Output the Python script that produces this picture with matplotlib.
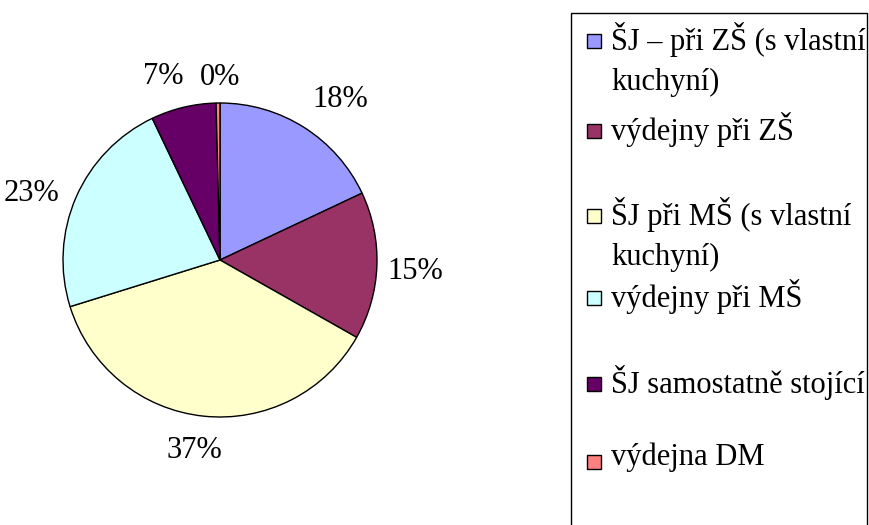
import matplotlib
matplotlib.use('Agg')
import matplotlib.pyplot as plt
from matplotlib.patches import Rectangle

# data (share of facilities, %)
categories = ['ŠJ – při ZŠ (s vlastní\nkuchyní)', 'výdejny při ZŠ',
              'ŠJ při MŠ (s vlastní\nkuchyní)', 'výdejny při MŠ',
              'ŠJ samostatně stojící', 'výdejna DM']
shares = [18.0, 15.2, 37.0, 22.7, 6.7, 0.4]
colors = ['#9999FF', '#993366', '#FFFFCC', '#CCFFFF', '#660066', '#FF8080']

# layout: legend rows (px) and nudges for the percentage labels (px)
legend_rows = [41, 131, 216, 298, 384, 462]
label_nudge = [(18, 1), (4, 4), (-5, 0), (-13, 10), (-12, 3), (2, 9)]

W, H = 870, 525
plt.rcParams['font.family'] = ['Liberation Serif', 'DejaVu Serif']
fsize = 22

fig = plt.figure(figsize=(W / 100, H / 100), dpi=100)

# pie axes: centre (220, 260), radius 157 px
cx, cy, r = 220, 260, 157
ax = fig.add_axes([(cx - r) / W, (H - cy - r) / H, 2 * r / W, 2 * r / H])
wedges, texts, autotexts = ax.pie(
    shares, colors=colors, startangle=90, counterclock=False,
    autopct='%.0f%%', pctdistance=1.22, radius=1.0,
    wedgeprops=dict(edgecolor='black', linewidth=1.0),
    textprops=dict(fontsize=fsize))
for t, (dx, dy) in zip(autotexts, label_nudge):
    x, y = t.get_position()
    t.set_position((x + dx / r, y - dy / r))
ax.set_xlim(-1, 1)
ax.set_ylim(-1, 1)
ax.set_aspect('equal')
ax.axis('off')

# overlay axes in pixel units for the legend box
lax = fig.add_axes([0, 0, 1, 1])
lax.set_xlim(0, W)
lax.set_ylim(H, 0)
lax.axis('off')
lax.add_patch(Rectangle((571, 13), 296, 530, fill=False,
                        edgecolor='black', linewidth=1.0, clip_on=False))
for lab, col, y in zip(categories, colors, legend_rows):
    lax.add_patch(Rectangle((587, y - 7), 14, 14, facecolor=col,
                            edgecolor='black', linewidth=1.0))
    lax.text(611, y - 19, lab, fontsize=fsize, va='top', ha='left',
             linespacing=1.5)

fig.savefig('out.png', dpi=100)
